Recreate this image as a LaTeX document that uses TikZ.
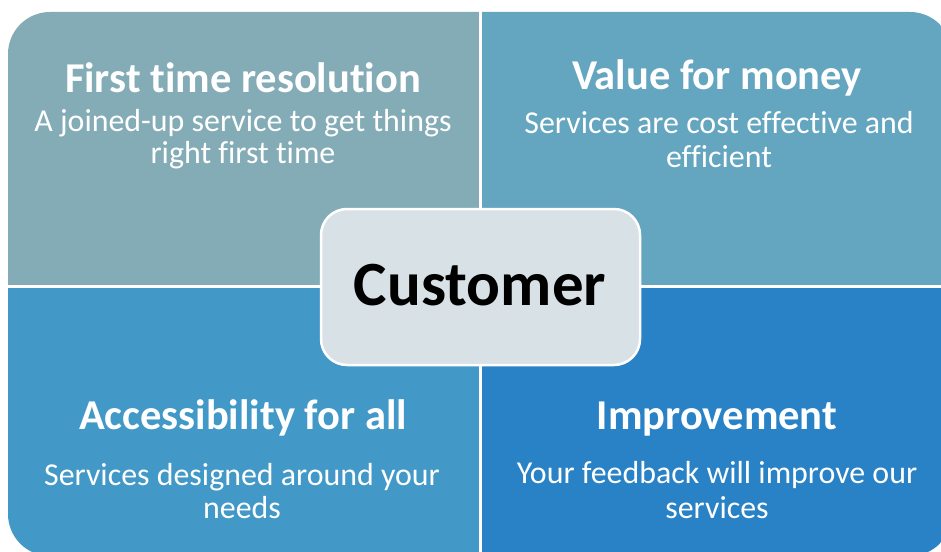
\documentclass[tikz,border=0pt]{standalone}
\usepackage{fontspec}
\setmainfont[Ligatures=NoCommon]{Carlito}
\definecolor{qtl}{RGB}{132,172,182}
\definecolor{qtr}{RGB}{100,165,192}
\definecolor{qbl}{RGB}{66,153,200}
\definecolor{qbr}{RGB}{41,130,198}
\definecolor{cbox}{RGB}{216,225,229}
\begin{document}
\begin{tikzpicture}[x=1pt,y=-1pt,
  ttl/.style={text=white,font=\fontsize{42.5}{42.5}\selectfont\bfseries,inner sep=0pt,anchor=base},
  bdy/.style={text=white,inner sep=0pt,anchor=base,align=center}]
\useasboundingbox[fill=white] (0,0) rectangle (941,551);
\begin{scope}
\clip[rounded corners=42pt] (8,12) rectangle (952,556);
\fill[qtl] (0,0) rectangle (480.5,286.5);
\fill[qtr] (480.5,0) rectangle (960,286.5);
\fill[qbl] (0,286.5) rectangle (480.5,560);
\fill[qbr] (480.5,286.5) rectangle (960,560);
\end{scope}
\draw[white,line width=3pt] (480.5,0) -- (480.5,560);
\draw[white,line width=3pt] (0,286.5) -- (960,286.5);
\node[draw=white,line width=2.5pt,fill=cbox,rounded corners=26pt,minimum width=319pt,minimum height=156pt,inner sep=0pt] (cust) at (480.5,287) {};
\node[font=\fontsize{63}{63}\selectfont\bfseries,inner sep=0pt,anchor=base] (custtxt) at (480,305) {Customer};
% top left
\node[ttl] (t1) at (243,92.5) {First time resolution};
\node[bdy,font=\fontsize{31.9}{32.5}\selectfont] (t1a) at (243,163.5) {A joined-up service to get things\\right first time};
% top right
\node[ttl] (t2) at (717,89.5) {Value for money};
\node[bdy,font=\fontsize{31.9}{34}\selectfont] (t2a) at (719,167) {Services are cost effective and\\efficient};
% bottom left
\node[ttl] (t3) at (243,429) {Accessibility for all};
\node[bdy,font=\fontsize{31.9}{33}\selectfont] (t3a) at (242,518) {Services designed around your\\needs};
% bottom right
\node[ttl] (t4) at (717,429) {Improvement};
\node[bdy,font=\fontsize{31.9}{35}\selectfont] (t4a) at (717,518) {Your feedback will improve our\\services};
\end{tikzpicture}
\end{document}
